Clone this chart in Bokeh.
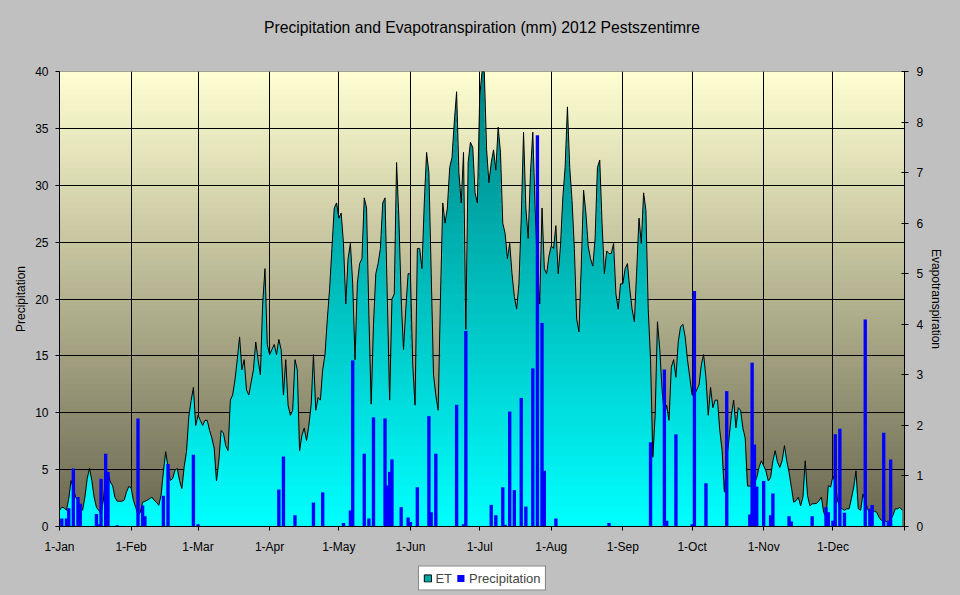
import numpy as np
from bokeh.plotting import figure
from bokeh.layouts import column
from bokeh.models import (Range1d, LinearAxis, FixedTicker, BoxAnnotation,
                          Legend, LegendItem, Title)
from bokeh.embed import file_html
from bokeh.resources import INLINE

# ---------------- data ----------------
title_text = "Precipitation and Evapotranspiration (mm) 2012 Pestszentimre"
month_labels = ["1-Jan", "1-Feb", "1-Mar", "1-Apr", "1-May", "1-Jun",
                "1-Jul", "1-Aug", "1-Sep", "1-Oct", "1-Nov", "1-Dec"]
month_start_days = [0, 31, 60, 91, 121, 152, 182, 213, 244, 274, 305, 335]
days_in_year = 366

# daily evapotranspiration (mm), 2012
et_jan = [0.32, 0.38, 0.37, 0.32, 0.55, 0.91, 0.75, 0.58, 0.52, 0.38, 0.32,
          0.58, 0.95, 1.15, 0.91, 0.58, 0.38, 0.32, 0.25, 0.52, 0.98, 1.08,
          0.88, 0.81, 0.58, 0.50, 0.50, 0.50, 0.52, 0.68, 0.79]
et_feb = [0.77, 0.52, 0.38, 0.22, 0.28, 0.48, 0.50, 0.52, 0.55, 0.58, 0.52,
          0.48, 0.42, 0.62, 1.08, 1.48, 1.18, 0.91, 0.95, 1.11, 1.15, 0.91,
          0.75, 1.18, 1.48, 2.17, 2.49, 2.75, 2.00]
et_mar = [2.20, 2.10, 2.00, 2.10, 2.10, 1.90, 1.75, 1.55, 0.90, 1.30, 1.90,
          1.85, 1.60, 1.50, 2.50, 2.60, 2.90, 3.30, 3.75, 3.10, 3.30, 2.70,
          2.60, 2.85, 3.10, 3.65, 3.30, 3.00, 4.40, 5.10, 3.60]
et_apr = [3.40, 3.50, 3.60, 3.40, 3.70, 3.50, 2.60, 3.30, 2.40, 2.20, 2.30,
          3.30, 3.10, 1.50, 1.80, 1.95, 1.70, 2.00, 2.40, 3.40, 2.30, 2.55,
          2.50, 3.10, 3.40, 4.10, 4.70, 5.50, 6.30, 6.40]
et_may = [6.10, 6.20, 5.60, 4.40, 5.30, 5.60, 4.80, 3.30, 4.80, 5.20, 5.30,
          6.50, 6.30, 4.20, 2.42, 4.00, 5.00, 5.20, 5.50, 6.40, 6.50, 4.50,
          2.50, 4.50, 4.60, 7.20, 6.10, 4.50, 3.50, 4.30, 5.00]
et_jun = [5.00, 3.20, 2.40, 5.50, 5.50, 5.10, 6.40, 7.40, 7.00, 5.00, 3.00,
          2.60, 2.30, 4.50, 6.40, 6.00, 6.30, 7.10, 7.30, 8.00, 8.60, 7.00,
          6.40, 7.40, 3.90, 7.20, 7.60, 7.50, 6.60, 6.40]
et_jul = [8.50, 9.00, 9.00, 7.45, 6.80, 7.20, 7.45, 7.05, 7.90, 7.40, 6.00,
          5.80, 5.30, 5.60, 5.00, 4.55, 4.30, 4.80, 6.10, 7.80, 6.30, 5.70,
          7.00, 7.80, 6.30, 5.15, 4.40, 6.30, 5.10, 5.00, 5.35]
et_aug = [5.55, 5.50, 5.95, 5.00, 5.55, 6.50, 7.10, 8.30, 7.10, 6.45, 5.50,
          4.10, 3.85, 5.15, 6.65, 6.20, 5.55, 5.30, 5.15, 5.70, 7.10, 7.25,
          6.00, 5.00, 5.45, 5.40, 5.40, 5.60, 4.60, 4.30, 4.80]
et_sep = [4.80, 5.10, 5.20, 4.70, 4.30, 4.05, 5.05, 6.10, 5.60, 6.60, 6.25,
          4.30, 3.30, 1.37, 2.20, 4.05, 3.50, 2.70, 2.20, 2.40, 2.10, 3.15,
          3.30, 2.95, 3.65, 3.95, 4.00, 3.75, 3.30, 2.95]
et_oct = [2.60, 2.60, 2.70, 2.80, 3.20, 3.40, 2.95, 2.20, 2.75, 2.35, 2.50,
          2.50, 1.90, 1.50, 0.68, 1.30, 1.75, 2.20, 2.50, 1.95, 2.35, 2.30,
          1.95, 1.75, 0.80, 0.80, 0.80, 0.85, 0.97, 1.17, 1.30]
et_nov = [1.20, 1.10, 0.90, 0.97, 1.30, 1.50, 1.27, 1.17, 1.30, 1.60, 1.30,
          1.07, 0.78, 0.48, 0.51, 0.58, 0.41, 0.58, 1.30, 0.61, 0.41, 0.45,
          0.45, 0.46, 0.51, 0.58, 0.28, 0.18, 0.81, 0.78]
et_dec = [1.00, 0.87, 0.51, 0.38, 0.35, 0.32, 0.35, 0.35, 0.55, 0.78, 1.10,
          0.35, 0.32, 0.64, 0.51, 0.35, 0.25, 0.32, 0.30, 0.28, 0.18, 0.12,
          0.12, 0.10, 0.09, 0.13, 0.22, 0.35, 0.35, 0.38, 0.32]

# daily precipitation (mm): day of year (0 = 1-Jan) and amount
precip_day = [1, 3, 4, 6, 8, 9, 16, 17, 18, 20, 21, 25, 34, 36, 37, 45, 47,
              58, 60, 95, 97, 102, 110, 114, 123, 126, 127, 132, 134, 136,
              141, 142, 143, 144, 148, 151, 152, 155, 160, 161, 163, 172,
              175, 176, 187, 189, 192, 193, 195, 197, 200, 202, 205, 207,
              209, 210, 215, 238, 256, 262, 263, 267, 274, 275, 280, 289,
              299, 300, 301, 302, 305, 308, 309, 316, 317, 326, 332, 333,
              335, 336, 338, 340, 349, 351, 352, 357, 359, 360]
precip_mm = [0.7, 0.7, 1.6, 5.1, 2.6, 2.0, 1.1, 0.2, 4.2, 6.4, 4.8, 0.1, 9.5,
             1.85, 0.9, 2.7, 5.5, 6.3, 0.2, 3.25, 6.15, 1.0, 2.1, 3.0, 0.3,
             1.4, 14.6, 6.4, 0.7, 9.6, 9.5, 3.6, 4.8, 5.9, 1.7, 0.8, 0.4,
             3.45, 9.7, 1.25, 6.4, 10.7, 0.2, 17.2, 1.9, 1.0, 3.45, 0.15,
             10.1, 3.2, 11.3, 1.75, 13.9, 34.4, 17.9, 4.9, 0.7, 0.3, 7.4,
             13.8, 0.5, 8.1, 0.2, 20.7, 3.8, 11.9, 1.05, 14.4, 7.2, 3.5, 4.0,
             1.0, 2.9, 0.9, 0.45, 0.9, 1.7, 1.25, 0.5, 8.1, 8.6, 1.2, 18.2,
             1.55, 1.9, 8.25, 0.5, 5.9]

et = (et_jan + et_feb + et_mar + et_apr + et_may + et_jun + et_jul + et_aug
      + et_sep + et_oct + et_nov + et_dec)
et_days = list(range(len(et)))

# ---------------- styling ----------------
FONT = "Liberation Sans"
GREY = "#c0c0c0"
GREY_CSS = {"background-color": GREY}
PREC_MAX, ET_MAX = 40, 9
ET_LEGEND_COLOR = "#00a8a8"
PRECIP_COLOR = "#0000ff"


def lerp_color(c0, c1, t):
    r, g, b = (int(round(a + (bb - a) * t)) for a, bb in zip(c0, c1))
    return "#%02x%02x%02x" % (r, g, b)


p = figure(width=960, height=560, x_range=Range1d(0, days_in_year),
           y_range=Range1d(0, PREC_MAX), output_backend="svg",
           toolbar_location=None, min_border_left=59, min_border_right=56,
           min_border_top=71, min_border_bottom=34)
p.styles = GREY_CSS
p.border_fill_color = GREY
p.background_fill_color = "#b8b89a"
p.outline_line_color = "#808080"
p.extra_y_ranges = {"et": Range1d(0, ET_MAX)}

p.title.text = title_text
p.title.align = "center"
p.title.text_font = FONT
p.title.text_font_size = "15.7px"
p.title.text_font_style = "normal"
p.title.text_color = "black"
p.title.standoff = 10
# blank spacer between the title and the plot area
p.add_layout(Title(text=" ", text_font_size="1px", standoff=28), "above")

# plot-area background gradient (light yellow at top -> dark olive at bottom)
bg_top, bg_bot = (255, 255, 210), (104, 102, 78)
n_bg = 80
for k in range(n_bg):
    lo = PREC_MAX * k / n_bg
    hi = PREC_MAX * (k + 1) / n_bg
    col = lerp_color(bg_bot, bg_top, (lo + hi) / 2 / PREC_MAX)
    p.add_layout(BoxAnnotation(bottom=lo, top=min(hi + 0.15, PREC_MAX),
                               fill_color=col, fill_alpha=1.0,
                               line_alpha=0, level="image"))

# grid
p.ygrid.ticker = FixedTicker(ticks=list(range(5, PREC_MAX, 5)))
p.xgrid.ticker = FixedTicker(ticks=month_start_days[1:])
for g in (p.xgrid, p.ygrid):
    g.grid_line_color = "black"
    g.grid_line_alpha = 1.0
    g.grid_line_width = 1

# ET area with vertical gradient (cyan at 0 -> teal at top)
et_arr = np.array(et, dtype=float)
et_bot_c, et_top_c = (0, 255, 255), (0, 128, 128)
n_et = 45
for k in range(n_et):
    lo = ET_MAX * k / n_et
    hi = ET_MAX * (k + 1) / n_et
    col = lerp_color(et_bot_c, et_top_c, (lo + hi) / 2 / ET_MAX)
    p.varea(x=et_days, y1=np.minimum(et_arr, lo),
            y2=np.minimum(et_arr, hi + 0.03), fill_color=col, fill_alpha=1.0,
            y_range_name="et")
p.line(x=et_days, y=et, line_color="black", line_width=1, y_range_name="et")

# precipitation bars
p.vbar(x=precip_day, top=precip_mm, width=1.45, fill_color=PRECIP_COLOR,
       line_color=None)

# axes
ax_l = p.yaxis[0]
ax_l.ticker = FixedTicker(ticks=list(range(0, PREC_MAX + 1, 5)))
ax_l.axis_label = "Precipitation"

ax_r = LinearAxis(y_range_name="et", ticker=FixedTicker(ticks=list(range(0, ET_MAX + 1))),
                  axis_label="Evapotranspiration")
p.add_layout(ax_r, "right")

ax_b = p.xaxis[0]
ax_b.ticker = FixedTicker(ticks=month_start_days + [days_in_year])
overrides = {d: lab for d, lab in zip(month_start_days, month_labels)}
overrides[days_in_year] = ""
ax_b.major_label_overrides = overrides

for ax in (ax_l, ax_r, ax_b):
    ax.axis_line_color = "black"
    ax.major_tick_line_color = "black"
    ax.minor_tick_line_color = None
    ax.major_tick_out = 4
    ax.major_tick_in = 0
    ax.major_label_text_font = FONT
    ax.major_label_text_font_size = "12px"
    ax.major_label_text_color = "black"
    ax.axis_label_text_font = FONT
    ax.axis_label_text_font_size = "12px"
    ax.axis_label_text_font_style = "normal"
    ax.axis_label_text_color = "black"
ax_r.major_tick_in = 3
ax_l.major_label_standoff = 7
ax_l.axis_label_standoff = 4
ax_r.major_label_standoff = 8
ax_r.axis_label_standoff = 3
ax_b.major_label_standoff = 9

# ---------------- legend strip below the chart ----------------
leg = figure(width=960, height=35, x_range=Range1d(0, days_in_year),
             y_range=Range1d(1000, 1001), output_backend="svg",
             toolbar_location=None, min_border=0,
             x_axis_location=None, y_axis_location=None)
leg.styles = GREY_CSS
leg.border_fill_color = GREY
leg.background_fill_color = GREY
leg.outline_line_color = None
leg.grid.visible = False
# proxies for the legend swatches (data lie outside this strip's y-range)
leg_et = leg.patch(x=et_days + et_days[::-1], y=et + [0] * len(et),
                   fill_color=ET_LEGEND_COLOR, line_color="black", line_width=1)
leg_pr = leg.vbar(x=precip_day, top=precip_mm, width=1.45,
                  fill_color=PRECIP_COLOR, line_color=None)
legend = Legend(items=[LegendItem(label="ET", renderers=[leg_et]),
                       LegendItem(label="Precipitation", renderers=[leg_pr])],
                orientation="horizontal", location="center",
                border_line_color="black", border_line_width=1,
                background_fill_color="white", background_fill_alpha=1.0,
                label_text_font=FONT, label_text_font_size="13px",
                glyph_width=9, glyph_height=9, label_standoff=4, spacing=4,
                padding=4, margin=0, label_height=15, label_width=10)
leg.add_layout(legend)

layout = column(p, leg, spacing=0, styles=GREY_CSS)
open("out.html", "w").write(file_html(layout, INLINE))
